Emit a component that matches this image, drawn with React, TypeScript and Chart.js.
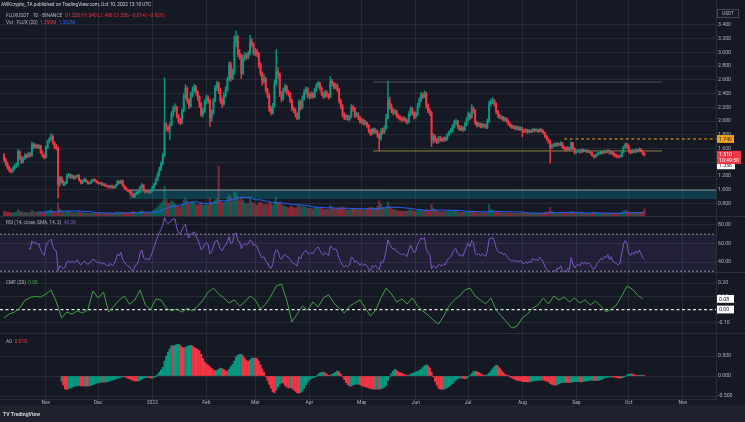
import React, { useEffect, useRef } from 'react';
import { Chart, registerables } from 'chart.js';

Chart.register(...registerables);

// ---------- data (daily candles, day 0 = 2021-10-08) ----------
const FIRST_OPEN = 1.5;
const closes = [
  1.44,1.38,1.33,1.28,1.27,1.31,1.34,1.36,1.55,1.47,
  1.40,1.46,1.50,1.48,1.52,1.50,1.66,1.63,1.65,1.62,
  1.64,1.55,1.50,1.47,1.62,1.70,1.74,1.78,1.68,1.62,
  1.60,1.08,1.18,1.12,1.08,1.10,1.20,1.22,1.18,1.20,
  1.17,1.19,1.21,1.14,1.10,1.13,1.15,1.12,1.09,1.10,
  1.13,1.15,1.13,1.11,1.09,1.10,1.07,1.08,1.06,1.05,
  1.04,1.06,1.03,1.04,1.07,1.12,1.10,1.13,1.06,1.03,
  1.00,0.98,0.97,0.93,0.90,0.94,0.95,0.97,1.04,1.07,
  0.99,0.97,0.98,0.96,0.99,1.03,1.08,1.15,1.22,1.30,
  1.38,1.50,1.96,1.90,1.88,1.95,2.10,2.18,2.20,2.08,
  2.00,1.98,2.15,2.35,2.48,2.30,2.22,2.38,2.45,2.50,
  2.42,2.35,2.25,2.10,2.15,2.28,2.35,2.30,2.05,2.12,
  2.30,2.48,2.55,2.45,2.30,2.25,2.38,2.45,2.60,2.82,
  2.62,2.70,3.15,3.22,2.98,2.96,2.70,2.92,2.96,2.93,
  2.98,3.16,3.12,2.99,3.02,2.98,2.82,2.70,2.58,2.62,
  2.45,2.38,2.18,2.12,2.22,2.55,2.72,2.68,2.40,2.32,
  2.45,2.50,2.42,2.40,2.30,2.18,2.15,2.10,2.04,2.28,
  2.20,2.34,2.42,2.47,2.38,2.35,2.40,2.36,2.45,2.52,
  2.55,2.48,2.40,2.36,2.42,2.38,2.35,2.58,2.55,2.50,
  2.52,2.46,2.30,2.22,2.10,2.05,2.08,2.03,2.06,2.20,
  2.18,2.08,2.10,2.05,1.99,2.02,1.96,1.98,1.94,1.86,
  1.81,1.88,1.84,1.86,1.80,1.75,1.86,1.84,1.90,2.05,
  2.30,2.22,2.16,2.12,2.14,2.08,2.06,2.04,2.02,2.04,
  2.01,1.99,2.10,2.18,2.12,2.06,2.10,2.22,2.30,2.38,
  2.36,2.40,2.22,2.15,2.12,1.72,1.78,1.72,1.70,1.76,
  1.74,1.72,1.75,1.73,1.80,1.84,1.86,1.92,1.98,2.00,
  1.92,1.88,1.90,1.87,1.95,2.02,2.10,2.05,2.18,2.15,
  1.98,1.94,1.96,1.92,1.95,1.93,1.91,2.00,2.26,2.28,
  2.30,2.25,2.14,2.08,2.05,2.06,2.02,2.04,2.00,1.96,
  1.93,1.91,1.92,1.89,1.91,1.88,1.90,1.86,1.85,1.87,
  1.84,1.86,1.85,1.88,1.86,1.87,1.85,1.88,1.86,1.83,
  1.78,1.74,1.70,1.62,1.64,1.66,1.65,1.67,1.66,1.68,
  1.62,1.60,1.58,1.61,1.59,1.68,1.60,1.54,1.56,1.57,
  1.55,1.58,1.56,1.57,1.55,1.56,1.54,1.50,1.48,1.50,
  1.52,1.53,1.55,1.54,1.56,1.55,1.57,1.53,1.55,1.51,
  1.50,1.49,1.48,1.49,1.55,1.62,1.66,1.64,1.56,1.54,
  1.57,1.55,1.58,1.56,1.59,1.56,1.52,1.51
];
const highs = [
  1.53,1.46,1.40,1.35,1.31,1.33,1.37,1.39,1.59,1.57,
  1.49,1.48,1.53,1.52,1.55,1.54,1.70,1.68,1.67,1.66,
  1.66,1.65,1.57,1.52,1.64,1.72,1.76,1.82,1.79,1.70,
  1.66,1.63,1.20,1.19,1.14,1.12,1.23,1.24,1.23,1.22,
  1.21,1.20,1.22,1.22,1.15,1.14,1.17,1.16,1.13,1.11,
  1.14,1.16,1.16,1.14,1.12,1.11,1.11,1.09,1.09,1.07,
  1.06,1.07,1.07,1.05,1.08,1.14,1.13,1.14,1.14,1.07,
  1.04,1.01,0.99,0.98,0.94,0.95,0.97,0.98,1.05,1.09,
  1.07,1.00,0.99,0.99,1.00,1.05,1.10,1.17,1.25,1.33,
  1.41,1.53,2.63,1.98,1.93,1.98,2.14,2.22,2.25,2.22,
  2.10,2.04,2.18,2.40,2.53,2.50,2.33,2.42,2.50,2.54,
  2.52,2.44,2.37,2.27,2.19,2.31,2.38,2.37,2.32,2.16,
  2.33,2.52,2.58,2.57,2.48,2.34,2.42,2.50,2.64,2.86,
  2.86,2.76,3.24,3.31,3.25,3.04,2.98,2.96,3.00,2.99,
  3.02,3.25,3.20,3.14,3.06,3.05,3.00,2.85,2.72,2.68,
  2.64,2.48,2.40,2.22,2.26,2.60,3.04,2.78,2.70,2.43,
  2.48,2.54,2.52,2.45,2.42,2.32,2.21,2.18,2.12,2.31,
  2.30,2.37,2.46,2.50,2.49,2.41,2.43,2.42,2.48,2.55,
  2.58,2.57,2.50,2.42,2.45,2.44,2.40,2.65,2.61,2.57,
  2.55,2.54,2.48,2.32,2.24,2.12,2.10,2.09,2.08,2.24,
  2.23,2.20,2.13,2.12,2.07,2.04,2.03,2.01,1.99,1.95,
  1.88,1.90,1.90,1.89,1.87,1.82,1.89,1.90,1.93,2.10,
  2.58,2.35,2.25,2.19,2.17,2.16,2.10,2.08,2.06,2.07,
  2.05,2.03,2.14,2.21,2.20,2.14,2.13,2.26,2.34,2.42,
  2.41,2.44,2.42,2.25,2.18,2.14,1.82,1.80,1.75,1.78,
  1.78,1.76,1.77,1.77,1.82,1.86,1.89,1.95,2.01,2.03,
  2.01,1.94,1.93,1.92,1.98,2.05,2.14,2.12,2.24,2.21,
  2.17,2.00,1.98,1.97,1.97,1.96,1.95,2.03,2.29,2.32,
  2.34,2.32,2.27,2.16,2.10,2.08,2.07,2.06,2.05,2.02,
  1.98,1.95,1.94,1.93,1.93,1.92,1.92,1.91,1.88,1.89,
  1.88,1.88,1.87,1.90,1.89,1.89,1.88,1.90,1.89,1.87,
  1.84,1.79,1.75,1.72,1.66,1.68,1.68,1.69,1.68,1.70,
  1.69,1.64,1.62,1.63,1.62,1.70,1.69,1.61,1.58,1.59,
  1.58,1.60,1.59,1.59,1.58,1.58,1.57,1.55,1.51,1.52,
  1.54,1.55,1.57,1.56,1.58,1.57,1.59,1.58,1.56,1.56,
  1.53,1.52,1.50,1.51,1.57,1.64,1.68,1.68,1.65,1.58,
  1.59,1.58,1.60,1.59,1.61,1.60,1.57,1.54
];
const lows = [
  1.41,1.35,1.30,1.26,1.24,1.25,1.29,1.32,1.34,1.44,
  1.38,1.39,1.44,1.46,1.47,1.48,1.49,1.60,1.61,1.60,
  1.60,1.53,1.48,1.45,1.46,1.60,1.68,1.72,1.66,1.60,
  1.58,0.88,1.05,1.10,1.06,1.06,1.09,1.18,1.16,1.17,
  1.15,1.16,1.18,1.13,1.08,1.09,1.12,1.11,1.08,1.08,
  1.09,1.12,1.12,1.10,1.08,1.08,1.06,1.06,1.05,1.04,
  1.02,1.03,1.02,1.02,1.03,1.06,1.09,1.09,1.05,1.01,
  0.99,0.97,0.95,0.92,0.885,0.89,0.93,0.94,0.96,1.02,
  0.98,0.95,0.96,0.95,0.95,0.97,1.02,1.07,1.13,1.20,
  1.28,1.36,1.48,1.86,1.84,1.73,1.93,2.07,2.14,2.05,
  1.97,1.95,1.96,2.13,2.32,2.26,2.18,2.20,2.35,2.42,
  2.38,2.30,2.20,2.07,2.06,2.12,2.25,2.26,1.92,2.00,
  2.10,2.28,2.44,2.40,2.26,2.20,2.23,2.35,2.43,2.58,
  2.58,2.60,2.68,3.08,2.94,2.90,2.62,2.68,2.88,2.90,
  2.91,2.96,3.08,2.96,2.95,2.94,2.78,2.66,2.52,2.55,
  2.42,2.34,2.14,2.09,2.10,2.20,2.52,2.62,2.36,2.28,
  2.30,2.42,2.39,2.36,2.27,2.15,2.12,2.06,2.02,2.03,
  2.16,2.18,2.31,2.39,2.34,2.32,2.33,2.33,2.34,2.43,
  2.49,2.45,2.37,2.33,2.34,2.35,2.32,2.34,2.51,2.47,
  2.47,2.43,2.26,2.18,2.06,2.02,2.02,2.01,2.01,2.05,
  2.14,2.05,2.06,2.02,1.97,1.96,1.94,1.94,1.90,1.83,
  1.79,1.80,1.82,1.82,1.76,1.565,1.72,1.81,1.82,1.88,
  2.03,2.18,2.12,2.09,2.10,2.05,2.03,2.01,1.99,2.00,
  1.98,1.96,1.97,2.08,2.09,2.03,2.04,2.08,2.20,2.28,
  2.33,2.34,2.19,2.12,2.08,1.63,1.68,1.69,1.67,1.68,
  1.71,1.70,1.70,1.71,1.72,1.78,1.82,1.84,1.90,1.95,
  1.89,1.86,1.86,1.85,1.86,1.93,2.00,2.02,2.04,2.11,
  1.95,1.91,1.92,1.90,1.90,1.91,1.89,1.89,1.98,2.22,
  2.25,2.22,2.11,2.05,2.03,2.03,2.00,2.00,1.98,1.94,
  1.91,1.89,1.89,1.87,1.87,1.86,1.86,1.77,1.83,1.83,
  1.82,1.83,1.83,1.84,1.84,1.85,1.83,1.84,1.84,1.81,
  1.76,1.72,1.68,1.39,1.60,1.62,1.63,1.63,1.64,1.64,
  1.60,1.58,1.56,1.57,1.57,1.58,1.58,1.52,1.53,1.55,
  1.53,1.54,1.55,1.55,1.54,1.54,1.52,1.49,1.46,1.47,
  1.49,1.51,1.52,1.52,1.53,1.53,1.54,1.52,1.52,1.50,
  1.48,1.47,1.46,1.47,1.48,1.54,1.61,1.60,1.54,1.52,
  1.53,1.54,1.54,1.55,1.55,1.55,1.51,1.49
];
const volumes = [
  0.9,0.8,0.7,0.7,0.6,0.6,0.6,0.7,1.2,0.9,
  0.8,0.7,0.7,0.6,0.6,0.6,1.1,0.8,0.7,0.6,
  0.6,0.7,0.6,0.6,0.9,1.0,1.0,1.2,0.9,0.8,
  0.8,2.4,1.3,0.9,0.8,0.7,1.0,0.9,0.7,0.7,
  0.6,0.6,0.7,0.7,0.7,0.6,0.6,0.5,0.6,0.5,
  0.5,0.6,0.5,0.5,0.5,0.5,0.5,0.5,0.5,0.5,
  0.5,0.5,0.5,0.5,0.6,0.8,0.6,0.7,0.7,0.6,
  0.6,0.6,0.6,0.7,0.9,0.7,0.6,0.6,0.9,1.0,
  0.8,0.6,0.6,0.6,0.6,0.9,1.1,1.4,1.6,2.0,
  2.3,2.8,5.5,3.2,2.4,2.3,2.8,2.6,2.2,2.0,
  1.8,1.6,2.2,3.0,3.4,2.8,2.2,2.5,2.6,2.4,
  2.1,2.0,2.2,2.5,2.0,2.1,2.3,2.0,3.2,2.4,
  2.6,3.0,3.3,9.3,2.8,2.4,2.5,2.7,3.4,4.0,
  3.6,3.0,4.5,4.2,3.6,2.8,3.4,2.9,2.4,2.2,
  2.3,3.3,2.6,2.4,2.2,2.0,2.4,2.6,2.3,2.0,
  2.3,2.0,2.6,2.2,2.0,2.8,3.5,2.4,2.6,2.1,
  1.9,1.8,1.6,1.5,1.7,1.8,1.5,1.5,1.7,2.1,
  1.7,1.8,1.7,1.6,1.5,1.4,1.4,1.3,1.5,1.6,
  1.5,1.4,1.5,1.3,1.2,1.2,1.2,2.0,1.6,1.4,
  1.3,1.3,1.5,1.6,1.7,1.4,1.2,1.1,1.1,1.4,
  1.3,1.3,1.2,1.2,1.3,1.2,1.2,1.1,1.4,1.5,
  1.6,1.6,1.4,1.5,1.8,2.8,2.2,1.6,1.5,1.7,
  2.6,1.8,1.4,1.2,1.1,1.1,1.0,0.9,0.9,0.9,
  0.9,0.9,1.1,1.2,1.0,0.9,0.9,1.1,1.2,1.2,
  1.0,1.1,1.2,1.1,1.0,2.2,1.5,1.1,1.0,0.9,
  0.8,0.8,0.8,0.8,0.9,0.9,0.8,0.9,1.0,0.9,
  0.8,0.7,0.7,0.7,0.8,0.8,0.9,0.8,1.0,0.8,
  0.8,0.7,0.6,0.6,0.6,0.6,0.6,0.7,2.1,1.3,
  1.1,0.9,0.8,0.7,0.7,0.6,0.6,0.6,0.6,0.6,
  0.6,0.5,0.5,0.5,0.5,0.5,0.5,0.6,0.5,0.5,
  0.5,0.5,0.5,0.5,0.5,0.5,0.5,0.5,0.5,0.6,
  0.7,0.7,0.8,1.6,0.9,0.7,0.6,0.6,0.6,0.6,
  0.6,0.6,0.6,0.5,0.5,0.8,0.7,0.6,0.5,0.5,
  0.5,0.5,0.5,0.5,0.5,0.5,0.5,0.6,0.7,0.6,
  0.5,0.5,0.5,0.5,0.5,0.5,0.5,0.5,0.5,0.5,
  0.5,0.5,0.5,0.5,0.7,1.0,1.1,0.9,0.8,0.7,
  0.6,0.6,0.6,0.6,0.6,0.6,0.8,1.36
];
// Chaikin Money Flow read every 3 days
const CMF_STEP = 3;
const cmfValues = [
  -0.064,-0.034,-0.02,0.01,0.07,0.09,0.10,0.094,0.117,0.147,
  0.057,-0.064,-0.019,-0.034,-0.011,-0.026,-0.004,0.14,0.087,0.132,
  -0.019,0.026,0.072,0.10,0.04,0.072,0.147,0.034,0.0,0.08,
  0.072,0.01,-0.01,0.004,-0.02,0.01,-0.01,0.026,0.072,0.132,
  0.162,0.117,0.087,0.049,0.072,0.026,0.057,0.102,0.072,0.004,
  0.042,0.102,0.177,0.192,0.072,-0.094,-0.034,0.026,-0.004,0.057,
  0.019,0.087,0.11,0.049,0.011,-0.026,0.026,0.049,0.072,0.011,
  -0.049,-0.004,0.087,0.162,0.117,0.057,0.079,0.042,0.087,0.026,
  -0.011,-0.042,-0.079,-0.109,-0.049,0.026,0.072,0.102,0.147,0.162,
  0.102,0.072,0.042,0.087,-0.004,-0.049,-0.094,-0.14,-0.125,-0.064,
  -0.034,0.011,0.034,0.087,0.042,0.102,0.072,0.094,0.057,0.087,
  0.049,0.072,0.034,0.064,0.026,-0.019,0.004,0.034,0.102,0.177,
  0.155,0.11,0.08
];

// time axis (day index of each month start) and labels
const monthDays = [24, 54, 85, 116, 144, 175, 205, 236, 266, 297, 328, 358, 389];
const monthLabels = ['Nov', 'Dec', '2022', 'Feb', 'Mar', 'Apr', 'May', 'Jun', 'Jul', 'Aug', 'Sep', 'Oct', 'Nov'];
const priceTicks = [0.8, 1.0, 1.2, 1.4, 1.6, 1.8, 2.0, 2.2, 2.4, 2.6, 2.8, 3.0, 3.2, 3.4];
const rsiTicks = [40, 60, 80];
const cmfTicks = [-0.1, 0.1, 0.2];
const aoTicks = [-0.5, 0, 0.5];

// drawings
const RESIST_LEVEL = 2.57;
const SUPPORT_LEVEL = 1.565;
const LEVEL_DAYS = [211.5, 377];
const ORANGE_LEVEL = 1.74;
const ORANGE_START = 321;
const ZONE_TOP = 0.996;
const ZONE_BOTTOM = 0.865;
const ZONE_START = 71.6;
const WHITE_TAG = 1.356;

// ---------- style ----------
const FONT = 'Roboto, "Liberation Sans", Arial, sans-serif';
const BG = '#151924';
const GRID = 'rgba(62,66,78,0.42)';
const SEP = '#2a2e39';
const TEXT = '#b2b5be';
const UP = '#089981';
const DOWN = '#f23645';
const W = 745;
const AXIS_W = 29;
const X_MIN = -2.29;
const X_MAX = 408;

// ---------- derived ----------
const N = closes.length;
const days = closes.map((_, i) => i);
const opens = closes.map((_, i) => (i === 0 ? FIRST_OPEN : closes[i - 1]));
const candleColor = closes.map((c, i) => (c >= opens[i] ? UP : DOWN));
const volColor = closes.map((c, i) => (c >= opens[i] ? 'rgba(8,153,129,0.5)' : 'rgba(242,54,69,0.5)'));

function sma(src: number[], len: number): (number | null)[] {
  return src.map((_, i) => {
    if (i < len - 1) return null;
    let s = 0;
    for (let k = i - len + 1; k <= i; k++) s += src[k];
    return s / len;
  });
}
function computeRsi(src: number[], len: number): (number | null)[] {
  const out: (number | null)[] = src.map(() => null);
  let g = 0, l = 0;
  for (let i = 1; i <= len; i++) {
    const d = src[i] - src[i - 1];
    g += Math.max(d, 0);
    l += Math.max(-d, 0);
  }
  g /= len; l /= len;
  out[len] = l === 0 ? 100 : 100 - 100 / (1 + g / l);
  for (let i = len + 1; i < src.length; i++) {
    const d = src[i] - src[i - 1];
    g = (g * (len - 1) + Math.max(d, 0)) / len;
    l = (l * (len - 1) + Math.max(-d, 0)) / len;
    out[i] = l === 0 ? 100 : 100 - 100 / (1 + g / l);
  }
  return out;
}
const rsi = computeRsi(closes, 14);
const volMa = sma(volumes, 20);
const median = highs.map((h, i) => (h + lows[i]) / 2);
const ao5 = sma(median, 5);
const ao34 = sma(median, 34);
const ao = days.map((i) => (ao5[i] !== null && ao34[i] !== null ? (ao5[i] as number) - (ao34[i] as number) : null));
const aoColor = ao.map((v, i) => (i > 0 && ao[i - 1] !== null && v !== null && v < (ao[i - 1] as number) ? DOWN : UP));

// ---------- chart helpers ----------
function xScale(showLabels: boolean) {
  return {
    type: 'linear',
    min: X_MIN,
    max: X_MAX,
    offset: false,
    afterBuildTicks: (s: any) => { s.ticks = monthDays.map((v) => ({ value: v })); },
    afterFit: (s: any) => { s.height = showLabels ? 6 : 0; s.paddingLeft = 0; s.paddingRight = 0; },
    ticks: {
      display: showLabels,
      autoSkip: false,
      maxRotation: 0,
      padding: 1,
      color: TEXT,
      font: { size: 5, family: FONT },
      callback: (_v: any, i: number) => monthLabels[i],
    },
    grid: { color: GRID, drawTicks: false, offset: false },
    border: { display: showLabels, color: SEP },
  };
}
function yScale(min: number, max: number, ticks: number[], digits: number) {
  return {
    position: 'right',
    min,
    max,
    afterBuildTicks: (s: any) => { s.ticks = ticks.map((v) => ({ value: v })); },
    afterFit: (s: any) => { s.width = AXIS_W; s.paddingTop = 0; s.paddingBottom = 0; },
    ticks: { color: TEXT, padding: 2, font: { size: 5.2, family: FONT }, callback: (v: any) => Number(v).toFixed(digits) },
    grid: { color: GRID, drawTicks: false },
    border: { color: SEP },
  };
}
function tag(ctx: CanvasRenderingContext2D, x: number, y: number, w: number, lines: string[], bg: string, fg: string) {
  const lh = 5.4;
  const top = y - lh / 2 - 1.2;
  const h = lines.length * lh + 2.4;
  ctx.save();
  ctx.fillStyle = bg;
  ctx.fillRect(x, top, w, h);
  ctx.fillStyle = fg;
  ctx.font = `5.2px ${FONT}`;
  ctx.textBaseline = 'middle';
  ctx.textAlign = 'left';
  lines.forEach((t, i) => ctx.fillText(t, x + 2, y + i * lh + 0.3));
  ctx.restore();
}
function hline(level: number, x0: number, x1: number, color: string, dash: number[] = [], width = 1, axis = 'y') {
  return {
    type: 'line',
    yAxisID: axis,
    data: [{ x: x0, y: level }, { x: x1, y: level }],
    borderColor: color,
    borderWidth: width,
    borderDash: dash,
    pointRadius: 0,
    order: 3,
  };
}
const base = {
  responsive: false,
  animation: false,
  events: [],
  layout: { padding: 0 },
  plugins: { legend: { display: false }, tooltip: { enabled: false } },
};

function mainConfig(): any {
  return {
    type: 'bar',
    data: {
      datasets: [
        {
          type: 'bar', yAxisID: 'y', order: 0, grouped: false, barThickness: 1.3, minBarLength: 1,
          data: days.map((i) => ({ x: i, y: [opens[i], closes[i]] })),
          backgroundColor: candleColor, borderWidth: 0,
        },
        {
          type: 'bar', yAxisID: 'y', order: 1, grouped: false, barThickness: 0.8,
          data: days.map((i) => ({ x: i, y: [lows[i], highs[i]] })),
          backgroundColor: candleColor, borderWidth: 0,
        },
        hline(RESIST_LEVEL, LEVEL_DAYS[0], LEVEL_DAYS[1], 'rgba(120,123,134,0.55)'),
        hline(SUPPORT_LEVEL, LEVEL_DAYS[0], LEVEL_DAYS[1], 'rgba(160,150,70,0.85)'),
        hline(ORANGE_LEVEL, ORANGE_START, X_MAX, '#f7a21b', [3, 2.6]),
        {
          type: 'line', yAxisID: 'y', order: 5,
          data: [{ x: ZONE_START, y: ZONE_TOP }, { x: X_MAX, y: ZONE_TOP }],
          borderColor: 'rgba(178,181,190,0.75)', borderWidth: 1, pointRadius: 0,
          fill: { value: ZONE_BOTTOM }, backgroundColor: 'rgba(0,150,165,0.3)',
        },
        {
          type: 'line', yAxisID: 'yv', order: 4,
          data: days.map((i) => ({ x: i, y: volMa[i] })),
          borderColor: '#2962ff', borderWidth: 1, pointRadius: 0,
        },
        {
          type: 'bar', yAxisID: 'yv', order: 6, grouped: false, barThickness: 1.3,
          data: days.map((i) => ({ x: i, y: volumes[i] })),
          backgroundColor: volColor, borderWidth: 0,
        },
      ],
    },
    options: {
      ...base,
      scales: {
        x: xScale(false),
        y: yScale(0.618, 3.764, priceTicks, 3),
        yv: { display: false, min: 0, max: 40, position: 'left' },
      },
    },
    plugins: [{
      id: 'mainTags',
      afterDraw(chart: any) {
        const ctx = chart.ctx;
        const s = chart.scales.y;
        const x = chart.chartArea.right + 1;
        ctx.save();
        ctx.strokeStyle = '#434651';
        ctx.lineWidth = 1;
        ctx.strokeRect(x + 0.5, 9.5, 21, 8);
        ctx.fillStyle = TEXT;
        ctx.font = `4.8px ${FONT}`;
        ctx.textBaseline = 'middle';
        ctx.textAlign = 'center';
        ctx.fillText('USDT', x + 11, 13.8);
        ctx.restore();
        tag(ctx, x, s.getPixelForValue(ORANGE_LEVEL), 17, [ORANGE_LEVEL.toFixed(3)], '#f7a21b', '#1e222d');
        tag(ctx, x, s.getPixelForValue(WHITE_TAG), 18, [WHITE_TAG.toFixed(3)], '#ffffff', '#131722');
        tag(ctx, x, s.getPixelForValue(closes[N - 1]), 24, [closes[N - 1].toFixed(3), '10:49:50'], DOWN, '#ffffff');
      },
    }],
  };
}

function rsiConfig(): any {
  return {
    type: 'line',
    data: {
      datasets: [
        {
          data: days.map((i) => ({ x: i, y: rsi[i] })),
          borderColor: '#7e57c2', borderWidth: 1, pointRadius: 0, order: 0,
        },
        {
          data: [{ x: X_MIN, y: 70 }, { x: X_MAX, y: 70 }],
          borderColor: 'rgba(160,163,172,0.85)', borderWidth: 1, borderDash: [2, 2], pointRadius: 0,
          fill: { value: 30 }, backgroundColor: 'rgba(126,87,194,0.12)', order: 2,
        },
        {
          data: [{ x: X_MIN, y: 30 }, { x: X_MAX, y: 30 }],
          borderColor: 'rgba(160,163,172,0.85)', borderWidth: 1, borderDash: [2, 2], pointRadius: 0, order: 2,
        },
      ],
    },
    options: { ...base, scales: { x: xScale(false), y: yScale(29.2, 89.7, rsiTicks, 2) } },
  };
}

function cmfConfig(): any {
  return {
    type: 'line',
    data: {
      datasets: [
        {
          data: cmfValues.map((v, i) => ({ x: i * CMF_STEP, y: v })),
          borderColor: '#43a047', borderWidth: 1, pointRadius: 0, order: 0,
        },
        {
          data: [{ x: X_MIN, y: 0 }, { x: X_MAX, y: 0 }],
          borderColor: 'rgba(235,237,242,0.95)', borderWidth: 1.2, borderDash: [3, 2.5], pointRadius: 0, order: 1,
        },
      ],
    },
    options: { ...base, scales: { x: xScale(false), y: yScale(-0.177, 0.283, cmfTicks, 2) } },
    plugins: [{
      id: 'cmfTags',
      afterDraw(chart: any) {
        const s = chart.scales.y;
        const x = chart.chartArea.right + 1;
        const last = cmfValues[cmfValues.length - 1];
        tag(chart.ctx, x, s.getPixelForValue(0), 17, ['0.00'], '#ffffff', '#131722');
        tag(chart.ctx, x, s.getPixelForValue(last), 17, [last.toFixed(2)], '#ffffff', '#131722');
      },
    }],
  };
}

function aoConfig(): any {
  const idx = days.filter((i) => ao[i] !== null);
  return {
    type: 'bar',
    data: {
      datasets: [
        {
          type: 'bar', grouped: false, barThickness: 1.45,
          data: idx.map((i) => ({ x: i, y: ao[i] })),
          backgroundColor: idx.map((i) => aoColor[i]), borderWidth: 0,
        },
      ],
    },
    options: { ...base, scales: { x: xScale(true), y: yScale(-0.575, 1.075, aoTicks, 3) } },
  };
}

const lastAo = ao[N - 1] ?? 0;
const lastRsi = rsi[N - 1] ?? 0;

const legendStyle: React.CSSProperties = {
  position: 'absolute', fontSize: 4.8, lineHeight: '5px', color: TEXT, whiteSpace: 'nowrap', fontFamily: FONT,
};

export default function App() {
  const mainRef = useRef<HTMLCanvasElement>(null);
  const rsiRef = useRef<HTMLCanvasElement>(null);
  const cmfRef = useRef<HTMLCanvasElement>(null);
  const aoRef = useRef<HTMLCanvasElement>(null);

  useEffect(() => {
    const charts = [
      new Chart(mainRef.current as HTMLCanvasElement, mainConfig()),
      new Chart(rsiRef.current as HTMLCanvasElement, rsiConfig()),
      new Chart(cmfRef.current as HTMLCanvasElement, cmfConfig()),
      new Chart(aoRef.current as HTMLCanvasElement, aoConfig()),
    ];
    return () => charts.forEach((c) => c.destroy());
  }, []);

  const cv = (top: number): React.CSSProperties => ({ position: 'absolute', left: 0, top, display: 'block' });
  const sep = (top: number): React.CSSProperties => ({ position: 'absolute', left: 0, top, width: W, height: 1, background: SEP });

  return (
    <div style={{ position: 'fixed', left: 0, top: 0, width: W, height: 422, background: BG, overflow: 'hidden', fontFamily: FONT }}>
      <canvas ref={mainRef} width={W} height={216} style={cv(0)} />
      <canvas ref={rsiRef} width={W} height={56} style={cv(216)} />
      <canvas ref={cmfRef} width={W} height={61} style={cv(272)} />
      <canvas ref={aoRef} width={W} height={72} style={cv(333)} />
      <div style={sep(216)} />
      <div style={sep(272)} />
      <div style={sep(333)} />

      <div style={{ ...legendStyle, left: 1, top: 2, color: '#d1d4dc' }}>
        AWKcrypto_TA published on TradingView.com, Oct 10, 2022 13:10 UTC
      </div>
      <div style={{ ...legendStyle, left: 6, top: 12.5 }}>
        FLUXUSDT · 1D · BINANCE&nbsp;&nbsp;
        <span style={{ color: DOWN }}>O1.520 H1.540 L1.490 C1.506 −0.014 (−0.92%)</span>
      </div>
      <div style={{ ...legendStyle, left: 6, top: 20 }}>
        Vol · FLUX (20)&nbsp;&nbsp;<span style={{ color: DOWN }}>1.359M</span>&nbsp;&nbsp;<span style={{ color: '#2962ff' }}>1.302M</span>
      </div>
      <div style={{ ...legendStyle, left: 6, top: 220 }}>
        RSI (14, close, SMA, 14, 2)&nbsp;&nbsp;<span style={{ color: '#7e57c2' }}>{lastRsi.toFixed(2)}</span>
      </div>
      <div style={{ ...legendStyle, left: 6, top: 280 }}>
        CMF (20)&nbsp;&nbsp;<span style={{ color: '#43a047' }}>{cmfValues[cmfValues.length - 1].toFixed(2)}</span>
      </div>
      <div style={{ ...legendStyle, left: 6, top: 339 }}>
        AO&nbsp;&nbsp;<span style={{ color: DOWN }}>{lastAo.toFixed(3)}</span>
      </div>

      <div style={{ position: 'absolute', left: 0, top: 405, width: W, height: 17, background: '#1e222d' }}>
        <div style={{ position: 'absolute', left: 3, top: 6, fontSize: 5.2, lineHeight: '6px', color: '#d1d4dc', fontWeight: 700, whiteSpace: 'nowrap' }}>
          TV TradingView
        </div>
      </div>
    </div>
  );
}
